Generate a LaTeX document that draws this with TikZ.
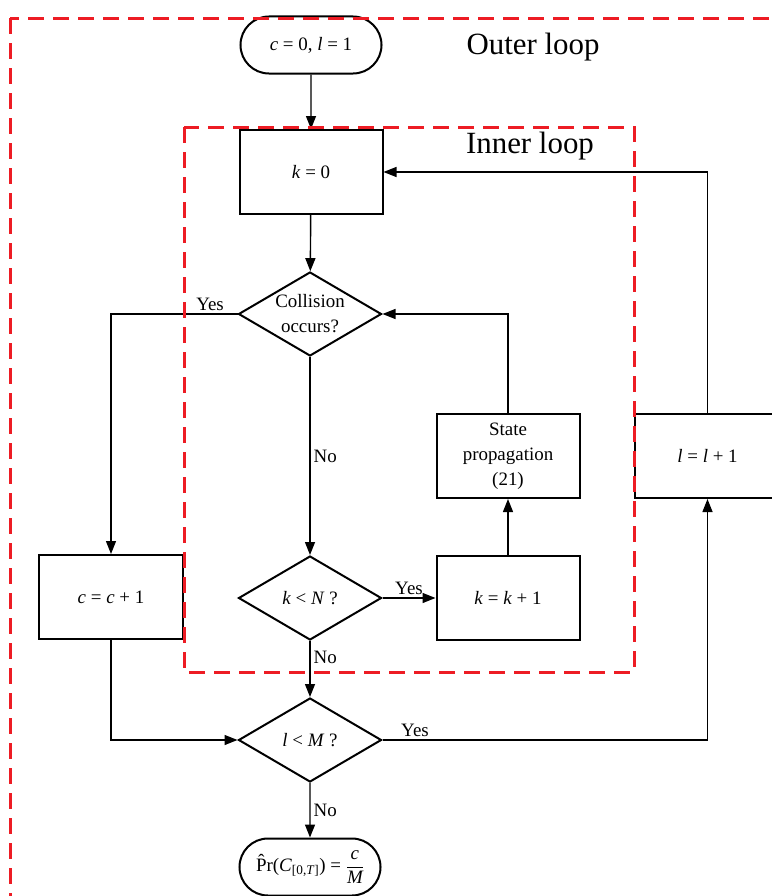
\documentclass[tikz,border=0pt]{standalone}
\usepackage{amsmath}
\usepackage{fontspec}
\setmainfont{Liberation Serif}
\usetikzlibrary{shapes.geometric,shapes.misc,arrows.meta}
\definecolor{loopred}{RGB}{237,28,36}
\newcommand{\mv}[1]{\textit{#1}}
\begin{document}
\begin{tikzpicture}[
  x=1bp, y=-1bp,
  every node/.style={font=\fontsize{19}{25}\selectfont},
  stepbox/.style={draw, line width=2bp, align=center, minimum width=143bp, minimum height=84bp, inner sep=0pt},
  decision/.style={draw, diamond, aspect=1.7, line width=2bp, align=center, minimum width=143bp, minimum height=84bp, inner sep=0pt},
  terminal/.style={draw, rounded rectangle, line width=2bp, minimum width=145bp, minimum height=57bp, inner sep=2pt},
  flow/.style={line width=1.4bp, -{Triangle[length=13bp,width=10bp]}},
  loopbox/.style={draw=loopred, line width=3bp, dash pattern=on 16bp off 9bp},
  looptitle/.style={font=\fontsize{31}{36}\selectfont},
  lbl/.style={inner sep=3pt}
]
\clip (0,0) rectangle (772,896);
\node[terminal] (start) at (311,45) {\mv{c} = 0, \mv{l} = 1};
\node[stepbox] (kzero) at (311,172) {\mv{k} = 0};
\node[decision] (coll) at (310,314) {Collision\\occurs?};
\node[stepbox] (cinc) at (111,597) {\mv{c} = \mv{c} + 1};
\node[decision] (kcheck) at (310,598) {\mv{k} < \mv{N} ?};
\node[stepbox] (kinc) at (508,598) {\mv{k} = \mv{k} + 1};
\node[stepbox] (prop) at (508,456) {State\\propagation\\(21)};
\node[stepbox, minimum width=145bp] (linc) at (707.5,456) {\mv{l} = \mv{l} + 1};
\node[decision] (lcheck) at (310,740) {\mv{l} < \mv{M} ?};
\node[terminal] (fin) at (310,867) {\^{P}r(\mv{C}$_{\text{[0,\mv{T}]}}$) = $\dfrac{\mv{c}}{\mv{M}}$};
\node[looptitle] (outer) at (533,47) {Outer loop};
\node[looptitle] (inner) at (530,146) {Inner loop};
\draw[flow] (start) -- (kzero);
\draw[flow] (kzero) -- (coll);
\draw[flow] (coll.west) -| node[lbl, above left, pos=0, xshift=-10bp] {Yes} (cinc.north);
\draw[flow] (coll) -- node[lbl, right] {No} (kcheck);
\draw[flow] (kcheck) -- node[lbl, above] {Yes} (kinc);
\draw[flow] (kinc) -- (prop);
\draw[flow] (prop.north) |- (coll.east);
\draw[flow] (kcheck) -- node[lbl, right, pos=0.3] {No} (lcheck);
\draw[flow] (cinc.south) |- (lcheck.west);
\draw[flow] (lcheck.east) -| node[lbl, above, pos=0.05] {Yes} (linc.south);
\draw[flow] (linc.north) |- (kzero.east);
\draw[flow] (lcheck) -- node[lbl, right] {No} (fin);
\draw[loopbox] (184,127) rectangle (634,672);
\draw[loopbox] (10,18) rectangle (800,920);
\end{tikzpicture}
\end{document}
